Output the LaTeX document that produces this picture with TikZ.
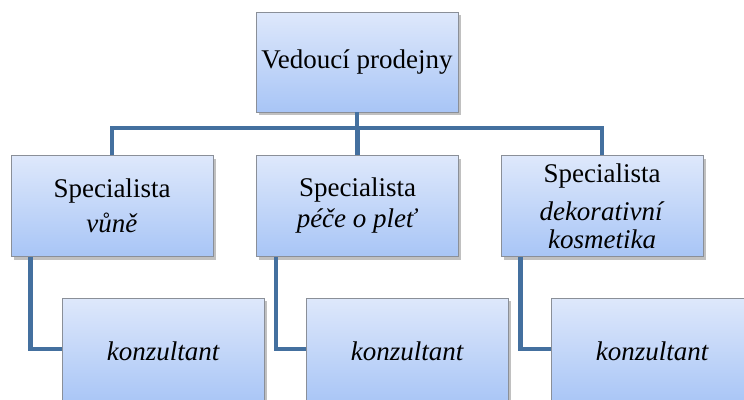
\documentclass[tikz,border=0pt]{standalone}
\usepackage{fontspec}
\setmainfont{Liberation Serif}
\usetikzlibrary{shadows}
\definecolor{boxtop}{HTML}{DEE8FB}
\definecolor{boxbot}{HTML}{A8C5F6}
\definecolor{boxline}{HTML}{8A8F98}
\definecolor{linkblue}{HTML}{44709F}
\tikzset{
  orgbox/.style={draw=boxline, line width=0.8pt, top color=boxtop, bottom color=boxbot,
    minimum width=202pt, minimum height=101pt, align=center, inner sep=2pt,
    font=\fontsize{27}{28}\selectfont,
    drop shadow={shadow xshift=2.5pt, shadow yshift=-3pt, opacity=0.35, fill=black!70}},
  link/.style={draw=linkblue, line width=4.5pt, line join=miter}
}
\begin{document}
\begin{tikzpicture}[x=1pt,y=-1pt]
\useasboundingbox (0,0) rectangle (744,399);
\clip (0,0) rectangle (744,399);
\fill[white] (0,0) rectangle (744,399);

% manager
\node[orgbox, minimum height=100pt] (top) at (357,62) {Vedoucí prodejny};

% specialists
\node[orgbox] (s1) at (112,206) {Specialista\\[7pt]\textit{vůně}};
\node[orgbox] (s2) at (357.5,206) {Specialista\\[3pt]\textit{péče o pleť}};
\node[orgbox] (s3) at (602,206) {Specialista\\[10pt]\textit{dekorativní}\\\textit{kosmetika}};

% consultants (cut by the lower edge)
\node[orgbox, minimum height=106pt] (k1) at (163.5,351) {\textit{konzultant}};
\node[orgbox, minimum height=106pt] (k2) at (407.5,351) {\textit{konzultant}};
\node[orgbox, minimum height=106pt] (k3) at (652.5,351) {\textit{konzultant}};

% bus under the manager
\coordinate (bus) at (357,128);
\draw[link] (top.south) -- (bus);
\draw[link] (s1.north) |- (bus) -| (s3.north);
\draw[link] (s2.north) -- (s2.north |- bus);

% specialist to consultant elbows
\coordinate (k1in) at (62,349);
\coordinate (k2in) at (306,349);
\coordinate (k3in) at (551,349);
\draw[link] ([xshift=20pt]s1.south west) |- (k1in);
\draw[link] ([xshift=20pt]s2.south west) |- (k2in);
\draw[link] ([xshift=20pt]s3.south west) |- (k3in);
\end{tikzpicture}
\end{document}
